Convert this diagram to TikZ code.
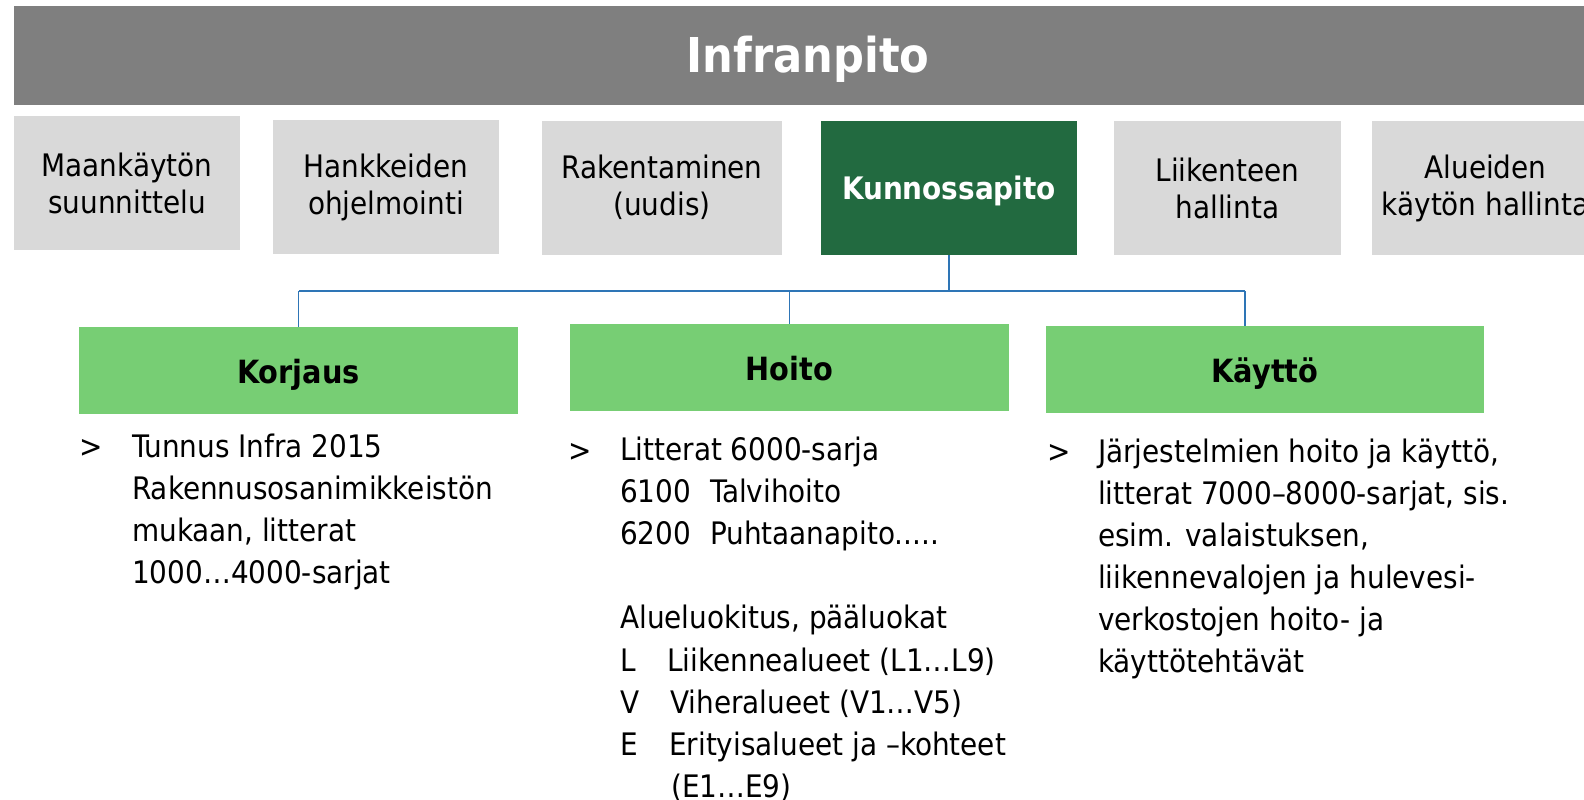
\documentclass[tikz,border=0pt]{standalone}
\usepackage{fontspec}
\setmainfont{DejaVu Sans Condensed}
\definecolor{barGray}{RGB}{127,127,127}
\definecolor{boxGray}{RGB}{217,217,217}
\definecolor{darkGreen}{RGB}{34,106,64}
\definecolor{lightGreen}{RGB}{119,206,116}
\definecolor{lineBlue}{RGB}{46,117,182}
\tikzset{
  topbox/.style={rectangle, fill=boxGray, minimum width=226pt, minimum height=134pt,
    inner sep=0pt, align=center, font=\fontsize{31}{37}\selectfont},
  greenbox/.style={rectangle, fill=lightGreen, minimum width=439pt, minimum height=87pt,
    inner sep=0pt, text height=25pt, text depth=0pt, font=\bfseries\fontsize{32}{38}\selectfont},
  txt/.style={anchor=base west, inner sep=0pt, font=\fontsize{31}{37}\selectfont},
  conn/.style={draw=lineBlue, line width=1.5pt}
}
\begin{document}
\begin{tikzpicture}[x=1pt,y=-1pt]
  \useasboundingbox (0,0) rectangle (1584,800);
  \clip (0,0) rectangle (1584,800);

  % otsikkopalkki
  \node[fill=barGray, minimum width=1600pt, minimum height=99pt, inner sep=0pt, anchor=north west] (bar) at (14,6) {};
  \node[text=white, font=\bfseries\fontsize{48}{56}\selectfont] (title) at (808,59) {Infranpito};

  % ylarivin laatikot
  \node[topbox] (maan) at (127,183) {Maankäytön\\suunnittelu};
  \node[topbox] (hank) at (386,187) {Hankkeiden\\ohjelmointi};
  \node[topbox, minimum width=240pt] (rake) at (662,187.5) {Rakentaminen\\(uudis)};
  \node[topbox, fill=darkGreen, text=white, minimum width=256pt, text height=22pt, text depth=0pt,
    font=\bfseries\fontsize{31}{37}\selectfont] (kunn) at (949,188) {Kunnossapito};
  \node[topbox, minimum width=227pt] (liik) at (1227.5,188) {Liikenteen\\hallinta};
  \node[topbox, minimum width=227pt] (alue) at (1485.5,188) {Alueiden\\käytön hallinta};

  % alarivin laatikot
  \node[greenbox] (korj) at (298.5,370.5) {Korjaus};
  \node[greenbox] (hoit) at (789.5,367.5) {Hoito};
  \node[greenbox, minimum width=438pt] (kayt) at (1265,369.5) {Käyttö};

  % yhdysviivat
  \coordinate (busL) at (299,291);
  \coordinate (busR) at (1245,291);
  \draw[conn] (kunn.south) -- (kunn.south |- busL);
  \draw[conn] (busL) -- (busR);
  \draw[conn] (korj.north |- busL) -- (korj.north);
  \draw[conn] (hoit.north |- busL) -- (hoit.north);
  \draw[conn] (busR) -- (busR |- kayt.north);

  % korjaus
  \node[txt] (korjb) at (79,457) {>};
  \foreach \t [count=\i from 0] in {Tunnus Infra 2015, Rakennusosanimikkeistön, {mukaan, litterat}, 1000…4000-sarjat}
    \node[txt] (korj\i) at (132,457+42*\i) {\t};

  % hoito
  \node[txt] (hoitb) at (568,461) {>};
  \foreach \i/\t in {0/Litterat 6000-sarja, 1/{\makebox[90pt][l]{6100}Talvihoito}, 2/{\makebox[90pt][l]{6200}Puhtaanapito.....},
      4/{Alueluokitus, pääluokat}, 5/{\makebox[47pt][l]{L}Liikennealueet (L1…L9)}, 6/{\makebox[50pt][l]{V}Viheralueet (V1…V5)},
      7/{\makebox[49pt][l]{E}Erityisalueet ja –kohteet}, 8/{\hspace*{51pt}(E1…E9)}}
    \node[txt] (hoit\i) at (620,460+42.2*\i) {\t};

  % kaytto
  \node[txt] (kaytb) at (1047,462) {>};
  \foreach \t [count=\i from 0] in {{Järjestelmien hoito ja käyttö,}, {litterat 7000–8000-sarjat, sis.}, {esim. valaistuksen,},
      liikennevalojen ja hulevesi-, verkostojen hoito- ja, käyttötehtävät}
    \node[txt] (kayt\i) at (1098,462+42*\i) {\t};
\end{tikzpicture}
\end{document}
